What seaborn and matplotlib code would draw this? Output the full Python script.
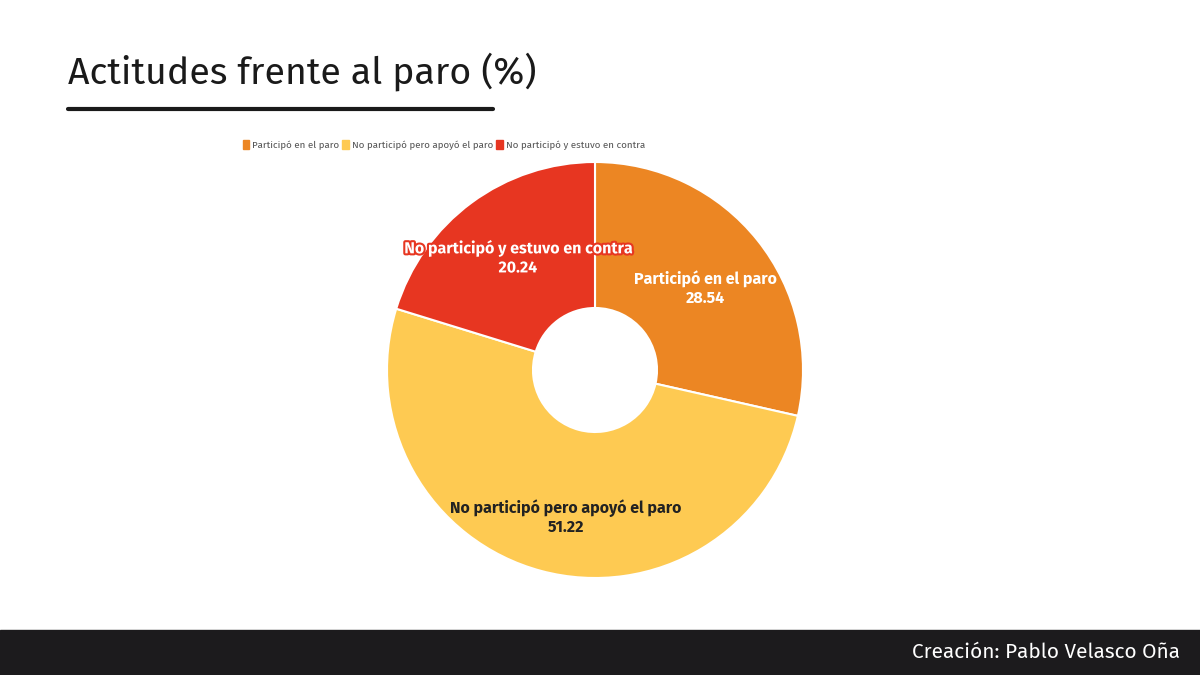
import matplotlib
matplotlib.use("Agg")
import matplotlib.pyplot as plt
import matplotlib.patheffects as pe
import seaborn as sns

sns.set_theme(style="white")
plt.rcParams['font.family'] = ['Fira Sans', 'Open Sans', 'DejaVu Sans']

categories = ["Participó en el paro", "No participó pero apoyó el paro", "No participó y estuvo en contra"]
values = [28.54, 51.22, 20.24]
colors = ["#ec8623", "#feca52", "#e73621"]
text_colors = ["white", "#222222", "white"]

fig = plt.figure(figsize=(12, 6.75), dpi=100)
fig.patch.set_facecolor("white")

# title and underline
fig.text(68 / 1200, 1 - 72 / 675, "Actitudes frente al paro (%)", fontsize=27, color="#1a1a1a", va="center", ha="left")
fig.add_artist(plt.Line2D([68 / 1200, 493 / 1200], [1 - 109 / 675] * 2, color="#1a1a1a", lw=3))

# footer bar
fig.add_artist(plt.Rectangle((0, 0), 1, 45 / 675, color="#1c1b1d", transform=fig.transFigure))
fig.text(1180 / 1200, 1 - 652 / 675, "Creación: Pablo Velasco Oña", fontsize=15, color="white", ha="right", va="center")

ax = fig.add_axes([(595 - 208) / 1200, (675 - 370 - 208) / 675, 416 / 1200, 416 / 675])
wedges, _ = ax.pie(values, colors=colors, startangle=90, counterclock=False,
                   wedgeprops=dict(width=1 - 62 / 208, edgecolor="white", linewidth=1.5))
ax.set_xlim(-1, 1)
ax.set_ylim(-1, 1)
ax.set_aspect("equal")

label_pos = [(0.53, 0.39), (-0.14, -0.71), (-0.37, 0.54)]
for i, ((x, y), cat, v, tc, c) in enumerate(zip(label_pos, categories, values, text_colors, colors)):
    t = ax.text(x, y, f"{cat}\n{v:.2f}", ha="center", va="center", fontsize=11.5,
                fontweight="bold", color=tc, linespacing=1.2)
    if i == 2:
        t.set_path_effects([pe.withStroke(linewidth=3, foreground=c)])

# legend
handles = [plt.Rectangle((0, 0), 1, 1, color=c) for c in colors]
fig.legend(handles, categories, loc="center", bbox_to_anchor=(444 / 1200, 1 - 145 / 675), ncol=3,
           frameon=False, fontsize=7, handlelength=0.7, handleheight=1.0, handletextpad=0.3,
           columnspacing=0.3, labelcolor="#555555")

fig.savefig("out.png", dpi=100)
